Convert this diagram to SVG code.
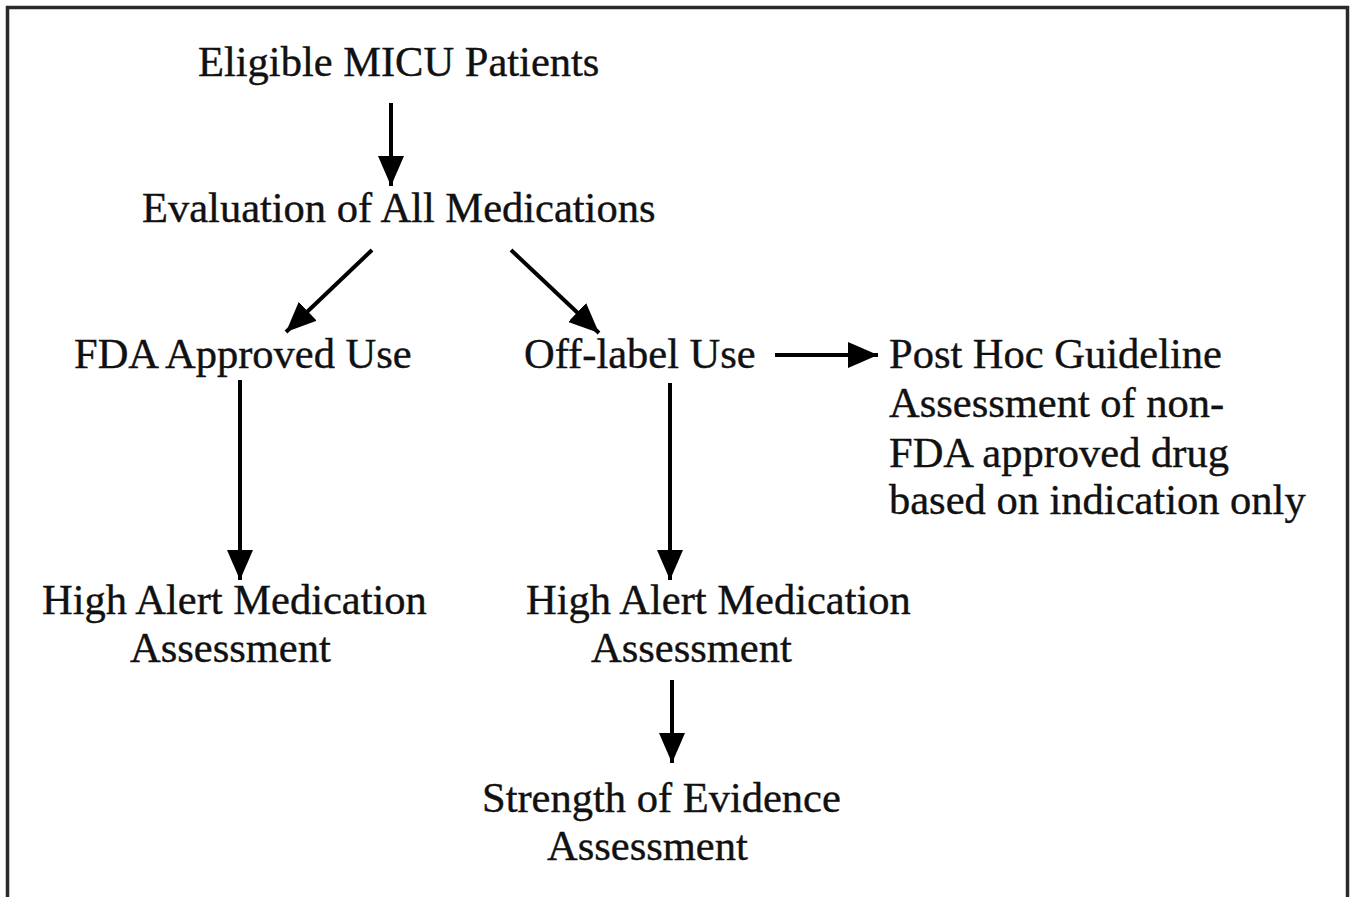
<svg xmlns="http://www.w3.org/2000/svg" width="1353" height="897" viewBox="0 0 1353 897">
<style>
  text { font-family: "Liberation Serif", "Times New Roman", serif; font-size: 42.5px; fill: #111; stroke: #111; stroke-width: 0.4; }
  .conn line { stroke: #000; stroke-width: 4; marker-end: url(#ah); }
</style>
<defs>
  <marker id="ah" markerUnits="userSpaceOnUse" markerWidth="30" markerHeight="26" refX="30" refY="13" orient="auto">
    <path d="M0,0 L30,13 L0,26 z" fill="#000"/>
  </marker>
</defs>
<rect x="0" y="0" width="1353" height="897" fill="#fff"/>
<rect x="7.5" y="7.5" width="1340" height="900" fill="none" stroke="#2a2a2a" stroke-width="3.5"/>
<g id="n-eligible"><text x="198" y="76">Eligible MICU Patients</text></g>
<g id="n-evaluation"><text x="142" y="222">Evaluation of All Medications</text></g>
<g id="n-fda"><text x="74" y="368">FDA Approved Use</text></g>
<g id="n-offlabel"><text x="524" y="368">Off-label Use</text></g>
<g id="n-posthoc">
  <text x="889" y="368">Post Hoc Guideline</text>
  <text x="889" y="417">Assessment of non-</text>
  <text x="889" y="467">FDA approved drug</text>
  <text x="889" y="514">based on indication only</text>
</g>
<g id="n-high-left">
  <text x="42" y="614">High Alert Medication</text>
  <text x="130" y="662">Assessment</text>
</g>
<g id="n-high-right">
  <text x="526" y="614">High Alert Medication</text>
  <text x="591" y="662">Assessment</text>
</g>
<g id="n-strength">
  <text x="482" y="812">Strength of Evidence</text>
  <text x="547" y="860">Assessment</text>
</g>
<g id="connectors" class="conn">
  <line x1="391" y1="103" x2="391" y2="186"/>
  <line x1="372" y1="250" x2="286" y2="332"/>
  <line x1="511" y1="250" x2="599" y2="333"/>
  <line x1="775" y1="355" x2="878" y2="355"/>
  <line x1="240" y1="380" x2="240" y2="580"/>
  <line x1="670" y1="383" x2="670" y2="580"/>
  <line x1="672" y1="680" x2="672" y2="763"/>
</g>
</svg>
